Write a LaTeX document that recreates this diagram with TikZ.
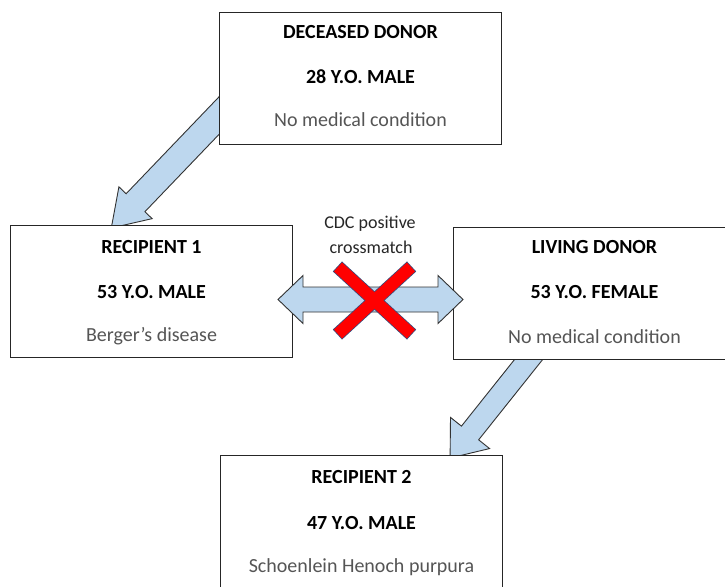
\documentclass[tikz,border=0pt]{standalone}
\usepackage{fontspec}
\setmainfont{Carlito}
\usetikzlibrary{calc}

\definecolor{arrowfill}{HTML}{BDD7EE}
\definecolor{arrowline}{HTML}{333333}
\definecolor{boxline}{HTML}{262626}
\definecolor{bodygray}{HTML}{555555}
\definecolor{crossred}{HTML}{FF0000}
\definecolor{crossline}{HTML}{3B4A7A}

\tikzset{
  card/.style={draw=boxline, line width=1pt, fill=white, minimum width=282pt,
    minimum height=132pt, inner sep=0pt, anchor=north west},
  headline/.style={anchor=base, inner sep=0pt, text=black,
    font=\bfseries\fontsize{20}{24}\selectfont},
  noteline/.style={anchor=base, inner sep=0pt, text=bodygray,
    font=\fontsize{20}{24}\selectfont},
  linklabel/.style={anchor=base, inner sep=0pt, text=black!85,
    font=\fontsize{18}{22}\selectfont},
  blockarrow/.style={draw=arrowline, line width=0.9pt, fill=arrowfill, line join=miter},
  crossedge/.style={draw=crossline, line width=13.6pt, line cap=butt,
    shorten <=-0.8pt, shorten >=-0.8pt},
  crossbar/.style={draw=crossred, line width=12pt, line cap=butt},
}

% block arrow: tail, tip, shaft half-width, head half-width, head length
\newcommand\blockarrow[5]{%
  \coordinate (#1-#2-n) at ($(#2)!#5!(#1)$);
  \draw[blockarrow] ($(#1)!#3!90:(#2)$) -- ($(#1-#2-n)!#3!90:(#2)$)
    -- ($(#1-#2-n)!#4!90:(#2)$) -- (#2) -- ($(#1-#2-n)!#4!-90:(#2)$)
    -- ($(#1-#2-n)!#3!-90:(#2)$) -- ($(#1)!#3!-90:(#2)$) -- cycle;
}
% double-headed block arrow: tip A, tip B, shaft half-width, head half-width, head length
\newcommand\twowayarrow[5]{%
  \coordinate (#1-#2-na) at ($(#1)!#5!(#2)$);
  \coordinate (#1-#2-nb) at ($(#2)!#5!(#1)$);
  \draw[blockarrow] (#1) -- ($(#1-#2-na)!#4!90:(#2)$) -- ($(#1-#2-na)!#3!90:(#2)$)
    -- ($(#1-#2-nb)!#3!-90:(#1)$) -- ($(#1-#2-nb)!#4!-90:(#1)$) -- (#2)
    -- ($(#1-#2-nb)!#4!90:(#1)$) -- ($(#1-#2-nb)!#3!90:(#1)$)
    -- ($(#1-#2-na)!#3!-90:(#2)$) -- ($(#1-#2-na)!#4!-90:(#2)$) -- cycle;
}

\begin{document}
\begin{tikzpicture}[x=1pt, y=-1pt]
  \clip (0,0) rectangle (725,586);
  \fill[white] (0,0) rectangle (725,586);

  % transfer arrows (ends tucked under the cards)
  \coordinate (dd-out) at (235.9,98);
  \coordinate (r1-in) at (111.3,228);
  \coordinate (ld-out) at (549.8,332.9);
  \coordinate (r2-in) at (450.1,458);
  \blockarrow{dd-out}{r1-in}{13pt}{23pt}{35pt}
  \blockarrow{ld-out}{r2-in}{11pt}{25pt}{32pt}

  % cards
  \node[card] (dd) at (219,12) {};
  \node[card] (r1) at (10,225) {};
  \node[card] (ld) at (453,227) {};
  \node[card] (r2) at (220,455) {};

  \node[headline] (dd-a) at ($(dd.north)+(0,27)$) {DECEASED DONOR};
  \node[headline] (dd-b) at ($(dd.north)+(0,72)$) {28 Y.O. MALE};
  \node[noteline] (dd-c) at ($(dd.north)+(0,114)$) {No medical condition};

  \node[headline] (r1-a) at ($(r1.north)+(0,28)$) {RECIPIENT 1};
  \node[headline] (r1-b) at ($(r1.north)+(0,73)$) {53 Y.O. MALE};
  \node[noteline] (r1-c) at ($(r1.north)+(0,116)$) {Berger’s disease};

  \node[headline] (ld-a) at ($(ld.north)+(0,26)$) {LIVING DONOR};
  \node[headline] (ld-b) at ($(ld.north)+(0,71)$) {53 Y.O. FEMALE};
  \node[noteline] (ld-c) at ($(ld.north)+(0,116)$) {No medical condition};

  \node[headline] (r2-a) at ($(r2.north)+(0,28)$) {RECIPIENT 2};
  \node[headline] (r2-b) at ($(r2.north)+(0,74)$) {47 Y.O. MALE};
  \node[noteline] (r2-c) at ($(r2.north)+(0,117)$) {Schoenlein Henoch purpura};

  % blocked exchange between recipient 1 and the living donor
  \coordinate (r1-x) at (278,299.5);
  \coordinate (ld-x) at (463,299.5);
  \twowayarrow{r1-x}{ld-x}{12.5pt}{24pt}{25pt}

  \coordinate (xa) at (338,267);
  \coordinate (xb) at (411,334);
  \coordinate (xc) at (411,267);
  \coordinate (xd) at (338,334);
  \draw[crossedge] (xa) -- (xb);
  \draw[crossedge] (xc) -- (xd);
  \draw[crossbar] (xa) -- (xb);
  \draw[crossbar] (xc) -- (xd);

  \node[linklabel] (cdc-a) at (370,228) {CDC positive};
  \node[linklabel] (cdc-b) at (371,253) {crossmatch};
\end{tikzpicture}
\end{document}
